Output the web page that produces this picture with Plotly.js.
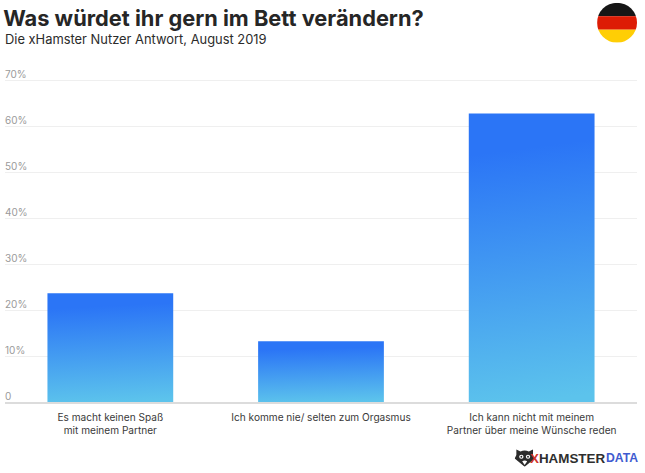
<!DOCTYPE html>
<html><head><meta charset="utf-8">
<script src="https://cdn.plot.ly/plotly-3.0.1.min.js"></script>
<style>html,body{margin:0;padding:0;background:#fff}#c{width:645px;height:473px}</style>
</head><body><div id="c"></div>
<script>
const categories = ["Es macht keinen Spaß<br>mit meinem Partner","Ich komme nie/ selten zum Orgasmus<br> ","Ich kann nicht mit meinem<br>Partner über meine Wünsche reden"];
const values = [23.65,13.2,62.7];
const tickVals = [0,10,20,30,40,50,60,70];
const tickText = ["0","10%","20%","30%","40%","50%","60%","70%"];
const FONT = "Inter, 'Open Sans', sans-serif";
const LOGOFONT = "'Liberation Sans Narrow', 'Liberation Sans', sans-serif";
const flag = 'data:image/svg+xml;utf8,' + encodeURIComponent(
 '<svg xmlns="http://www.w3.org/2000/svg" viewBox="0 0 40 40"><defs><clipPath id="k"><circle cx="20" cy="20" r="20"/></clipPath></defs><g clip-path="url(#k)"><rect width="40" height="13.5" fill="#161616"/><rect y="13.5" width="40" height="13.5" fill="#dd1c05"/><rect y="27" width="40" height="13" fill="#ffce05"/></g></svg>');
const logo = 'data:image/svg+xml;utf8,' + encodeURIComponent(
 '<svg xmlns="http://www.w3.org/2000/svg" viewBox="0 0 24 20"><path d="M2 1 L7 3 Q12 1 17 3 L22 1 L22 7 L24 11 L20 14 L12 20 L4 14 L0 11 L2 7Z" fill="#2b2b2b"/><ellipse cx="8" cy="9" rx="2.6" ry="2.2" fill="#fff"/><ellipse cx="16" cy="9" rx="2.6" ry="2.2" fill="#fff"/><circle cx="8" cy="9" r="1.1" fill="#222"/><circle cx="16" cy="9" r="1.1" fill="#222"/><path d="M9 14 Q12 12 15 14 L12 18Z" fill="#fff"/></svg>');
const annotations = [
 {text:"Die xHamster Nutzer Antwort, August 2019",xref:"paper",yref:"paper",x:0,xshift:-2,y:1,yshift:18,xanchor:"left",yanchor:"middle",showarrow:false,font:{family:FONT,size:12.9,color:"#2b2b2b"}},
 {text:'<b><span style="color:#d0342c">X</span>HAMSTER</b>',xref:"paper",yref:"paper",x:1,xshift:-30,y:0,yshift:-56,xanchor:"right",yanchor:"middle",showarrow:false,font:{family:LOGOFONT,size:13.4,color:"#2e2e2e"}},
 {text:"<b>DATA</b>",xref:"paper",yref:"paper",x:1,xshift:3,y:0,yshift:-56,xanchor:"right",yanchor:"middle",showarrow:false,font:{family:LOGOFONT,size:12.2,color:"#3f5bd0"}}
];
const layout = {
 width:645,height:473,paper_bgcolor:"#fff",plot_bgcolor:"#fff",showlegend:false,
 margin:{l:4.5,r:7.5,t:57.3,b:70.7,pad:0},bargap:0.403,
 title:{text:"<b>Was würdet ihr gern im Bett verändern?</b>",x:0.005,xanchor:"left",y:0.962,yanchor:"middle",font:{family:FONT,size:21.8,color:"#262626"}},
 xaxis:{type:"category",range:[-0.5,2.5],showgrid:false,ticks:"",showline:true,linecolor:"#dcdcdc",linewidth:1.5,tickfont:{family:FONT,size:10.1,color:"#3a3a3a"},ticklabelstandoff:5,zeroline:false},
 yaxis:{range:[0,75],tickmode:"array",tickvals:tickVals,ticktext:tickText,ticklabelposition:"inside",ticklabelshift:-6,ticklabelstandoff:-3,showgrid:true,gridcolor:"#efefef",gridwidth:1,zeroline:false,showline:false,ticks:"",tickfont:{family:FONT,size:10,color:"#9a9a9a"}},
 images:[
  {source:flag,xref:"paper",yref:"paper",x:(597.5-4.5)/633,y:(402.3-3)/345,sizex:40/633,sizey:40/345,xanchor:"left",yanchor:"top",sizing:"stretch",layer:"above"},
  {source:logo,xref:"paper",yref:"paper",x:(515-4.5)/633,y:(402.3-449)/345,sizex:20/633,sizey:18/345,xanchor:"left",yanchor:"top",sizing:"stretch",layer:"above"}
 ],
 annotations
};
const trace = {type:"bar",x:categories,y:values,marker:{color:"#3f93ea",line:{width:0}},hoverinfo:"skip"};
Plotly.newPlot("c",[trace],layout,{displayModeBar:false,staticPlot:true}).then(gd=>{
 const svg = gd.querySelector("svg.main-svg");
 const ns = "http://www.w3.org/2000/svg";
 const defs = svg.querySelector("defs") || svg.insertBefore(document.createElementNS(ns,"defs"),svg.firstChild);
 const g = document.createElementNS(ns,"linearGradient");
 g.setAttribute("id","barGrad");
 g.setAttribute("x1","0.45");g.setAttribute("y1","0.12");g.setAttribute("x2","0.5");g.setAttribute("y2","1");
 [["0","#2b75f6"],["1","#5cc3ec"]].forEach(([o,c])=>{const s=document.createElementNS(ns,"stop");s.setAttribute("offset",o);s.setAttribute("stop-color",c);g.appendChild(s);});
 defs.appendChild(g);
 gd.querySelectorAll(".bars .point path").forEach(p=>{p.style.fill="url(#barGrad)";});
});
</script></body></html>
